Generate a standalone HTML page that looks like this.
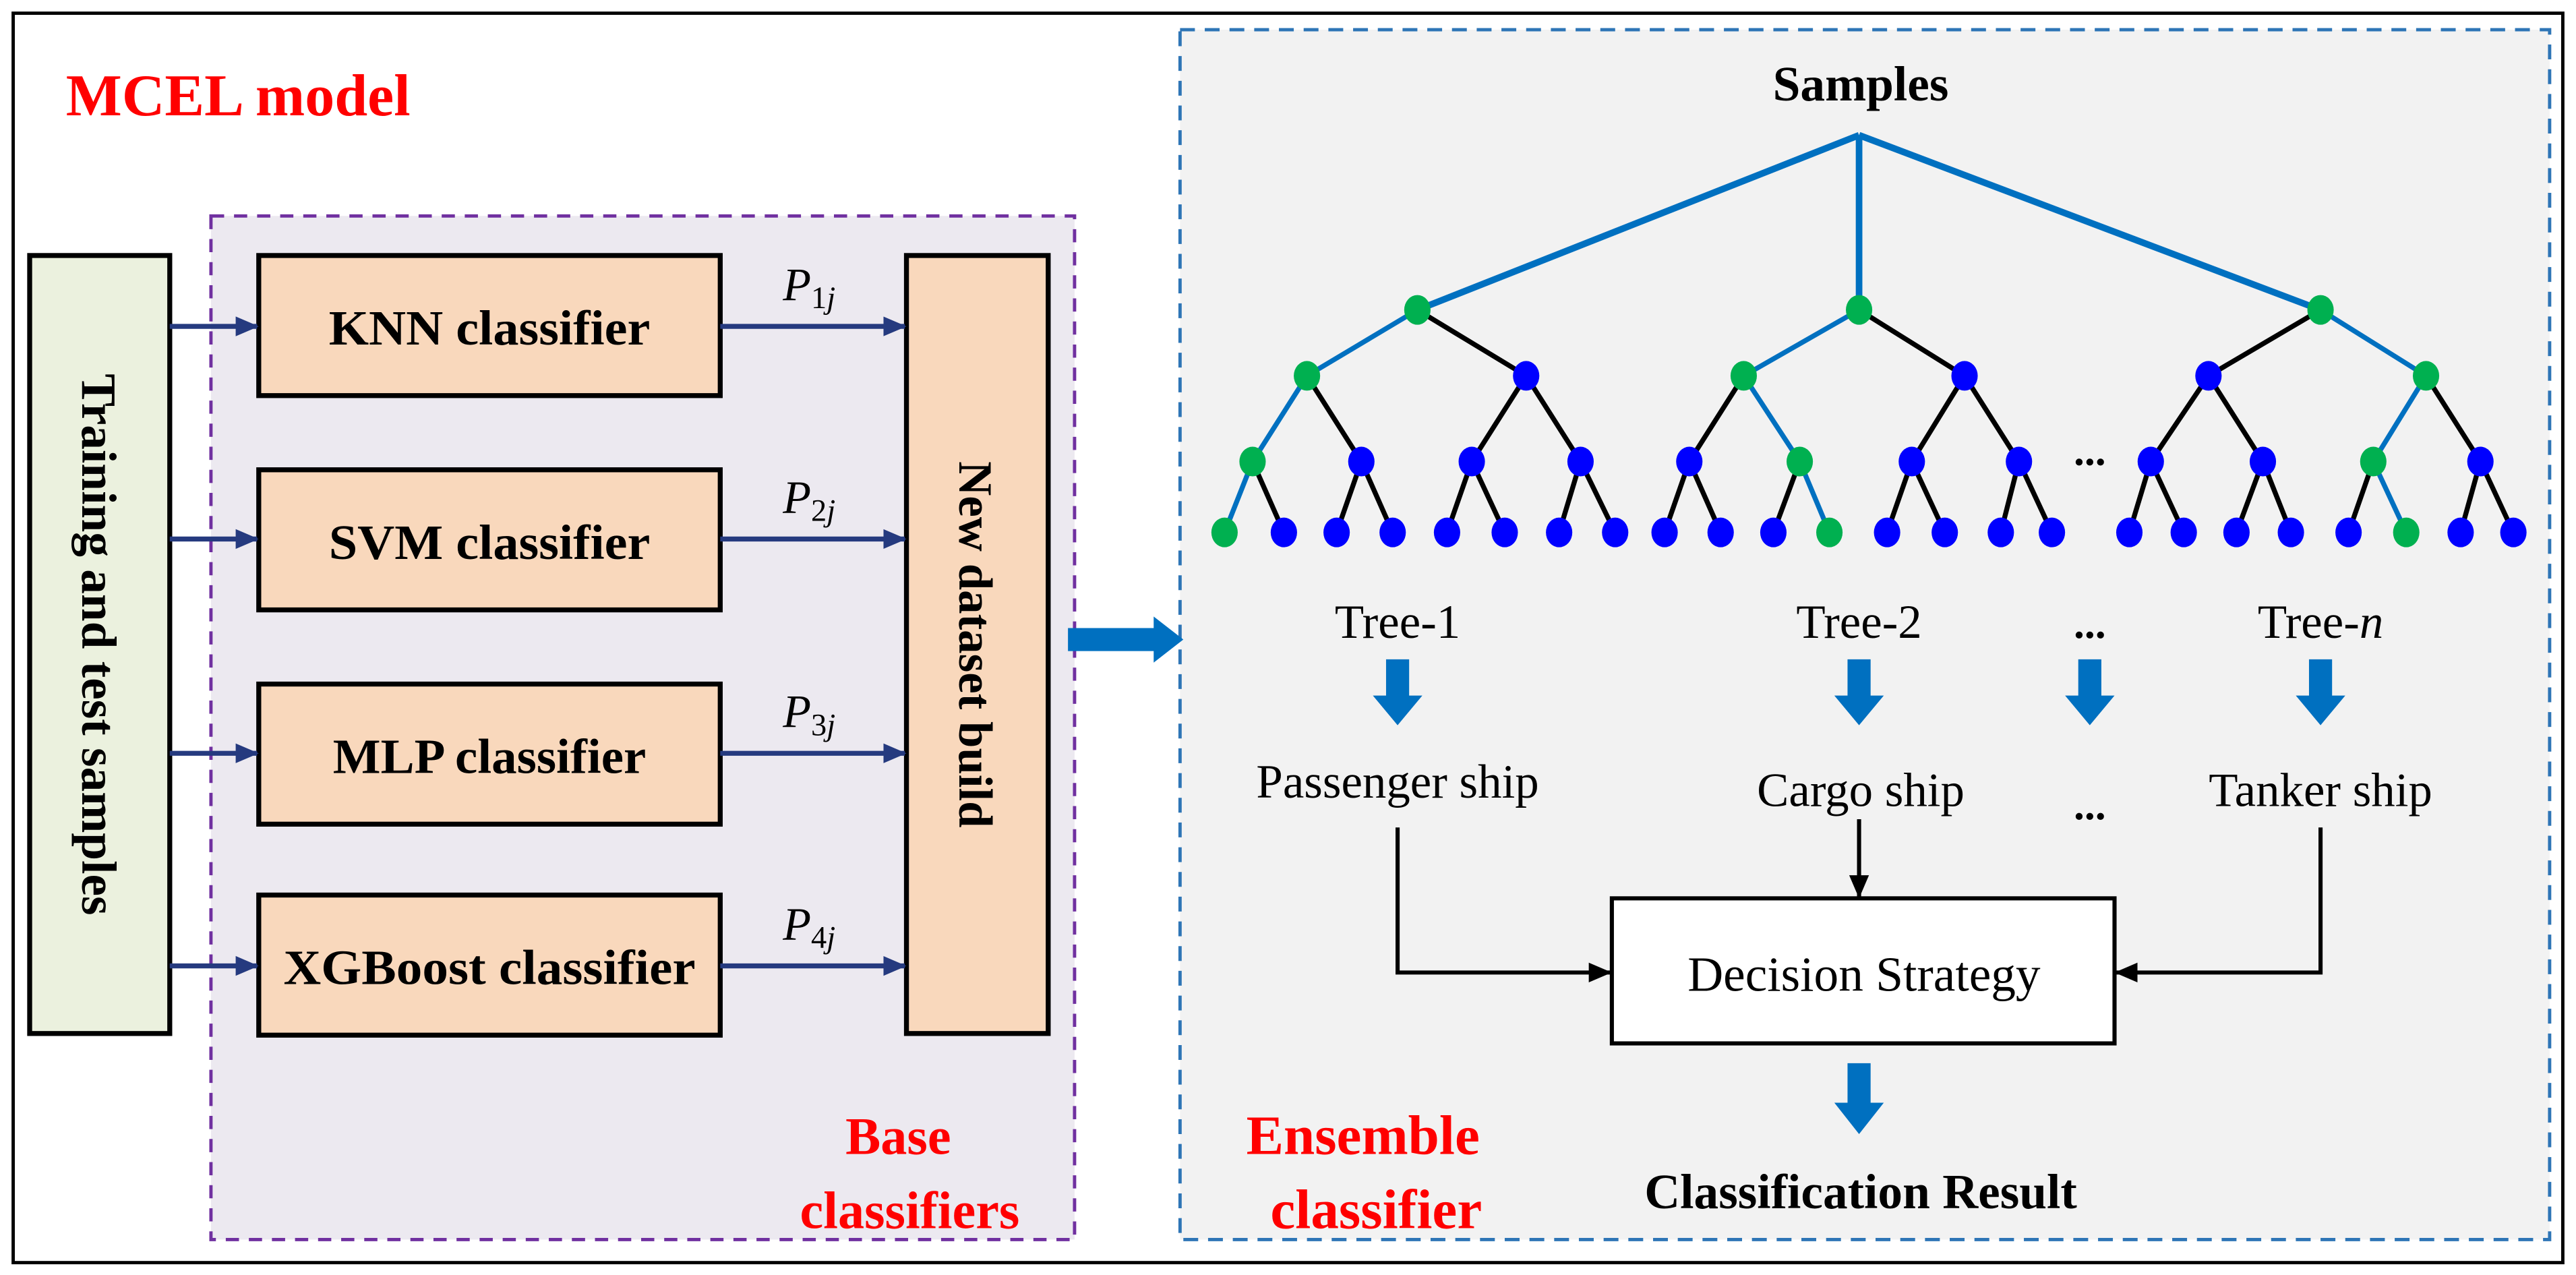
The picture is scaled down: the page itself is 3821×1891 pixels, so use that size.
<!DOCTYPE html>
<html><head><meta charset="utf-8"><style>
html,body{margin:0;padding:0;background:#fff;}
svg{display:block;}
text{font-family:"Liberation Serif",serif;}
</style></head><body>
<svg width="3821" height="1891" viewBox="0 0 1563 773.5" xmlns="http://www.w3.org/2000/svg">
<defs>
<marker id="na" markerWidth="14" markerHeight="14" refX="13" refY="7" orient="auto" markerUnits="userSpaceOnUse"><path d="M0,1 L14,7 L0,13 Z" fill="#253a7f"/></marker>
<marker id="ba" markerWidth="14" markerHeight="14" refX="13" refY="7" orient="auto" markerUnits="userSpaceOnUse"><path d="M0,1 L14,7 L0,13 Z" fill="#000"/></marker>
</defs>
<rect x="0" y="0" width="1563" height="773.5" fill="#fff"/>
<rect x="8" y="8" width="1547" height="758" fill="none" stroke="#000" stroke-width="2"/>
<text x="40" y="70" font-size="36" font-weight="bold" fill="#ff0000">MCEL model</text>
<rect x="128" y="131" width="524" height="621" fill="#ece9f0" stroke="#7030a0" stroke-width="2" stroke-dasharray="8,6"/>
<rect x="18" y="155" width="85" height="472" fill="#ebf1de" stroke="#000" stroke-width="3"/>
<text transform="translate(50,391) rotate(90)" text-anchor="middle" font-size="30" font-weight="bold">Training and test samples</text>
<g fill="#f9d8bc" stroke="#000" stroke-width="3">
<rect x="157" y="155" width="280" height="85"/>
<rect x="157" y="285" width="280" height="85"/>
<rect x="157" y="415" width="280" height="85"/>
<rect x="157" y="543" width="280" height="85"/>
<rect x="550" y="155" width="86" height="472"/>
</g>
<g font-size="30" font-weight="bold" text-anchor="middle">
<text x="297" y="209" textLength="195" lengthAdjust="spacingAndGlyphs">KNN classifier</text>
<text x="297" y="339" textLength="195" lengthAdjust="spacingAndGlyphs">SVM classifier</text>
<text x="297" y="469" textLength="190" lengthAdjust="spacingAndGlyphs">MLP classifier</text>
<text x="297" y="597" textLength="250" lengthAdjust="spacingAndGlyphs">XGBoost classifier</text>
</g>
<text transform="translate(582,391) rotate(90)" text-anchor="middle" font-size="29" font-weight="bold">New dataset build</text>
<g stroke="#253a7f" stroke-width="3" marker-end="url(#na)">
<line x1="103" y1="198" x2="156" y2="198"/><line x1="103" y1="327" x2="156" y2="327"/>
<line x1="103" y1="457" x2="156" y2="457"/><line x1="103" y1="586" x2="156" y2="586"/>
<line x1="437" y1="198" x2="549" y2="198"/><line x1="437" y1="327" x2="549" y2="327"/>
<line x1="437" y1="457" x2="549" y2="457"/><line x1="437" y1="586" x2="549" y2="586"/>
</g>
<g font-size="28" font-style="italic">
<text x="475" y="182">P<tspan font-size="19" font-style="normal" dy="5">1</tspan><tspan font-size="19" dy="0">j</tspan></text>
<text x="475" y="311">P<tspan font-size="19" font-style="normal" dy="5">2</tspan><tspan font-size="19">j</tspan></text>
<text x="475" y="441">P<tspan font-size="19" font-style="normal" dy="5">3</tspan><tspan font-size="19">j</tspan></text>
<text x="475" y="570">P<tspan font-size="19" font-style="normal" dy="5">4</tspan><tspan font-size="19">j</tspan></text>
</g>
<text x="545" y="700" font-size="32" font-weight="bold" fill="#ff0000" text-anchor="middle">Base</text>
<text x="552" y="745" font-size="32" font-weight="bold" fill="#ff0000" text-anchor="middle">classifiers</text>
<rect x="716" y="18" width="831" height="734" fill="#f2f2f2" stroke="#2e75b6" stroke-width="2" stroke-dasharray="9,6"/>
<path d="M648,381 L700,381 L700,374 L718,388 L700,402 L700,395 L648,395 Z" fill="#0070c0"/>
<text x="1129" y="61" font-size="30" font-weight="bold" text-anchor="middle">Samples</text>
<g stroke="#0070c0" stroke-width="4"><line x1="1128" y1="82" x2="860" y2="188"/><line x1="1128" y1="82" x2="1128" y2="188"/><line x1="1128" y1="82" x2="1408" y2="188"/></g>
<g stroke-width="3">
<line x1="860" y1="188" x2="793" y2="228" stroke="#0070c0"/><line x1="860" y1="188" x2="926" y2="228" stroke="#000"/>
<line x1="793" y1="228" x2="760" y2="280" stroke="#0070c0"/><line x1="793" y1="228" x2="826" y2="280" stroke="#000"/>
<line x1="926" y1="228" x2="893" y2="280" stroke="#000"/><line x1="926" y1="228" x2="959" y2="280" stroke="#000"/>
<line x1="760" y1="280" x2="743" y2="323" stroke="#0070c0"/><line x1="760" y1="280" x2="779" y2="323" stroke="#000"/>
<line x1="826" y1="280" x2="811" y2="323" stroke="#000"/><line x1="826" y1="280" x2="845" y2="323" stroke="#000"/>
<line x1="893" y1="280" x2="878" y2="323" stroke="#000"/><line x1="893" y1="280" x2="913" y2="323" stroke="#000"/>
<line x1="959" y1="280" x2="946" y2="323" stroke="#000"/><line x1="959" y1="280" x2="980" y2="323" stroke="#000"/>
<line x1="1128" y1="188" x2="1058" y2="228" stroke="#0070c0"/><line x1="1128" y1="188" x2="1192" y2="228" stroke="#000"/>
<line x1="1058" y1="228" x2="1025" y2="280" stroke="#000"/><line x1="1058" y1="228" x2="1092" y2="280" stroke="#0070c0"/>
<line x1="1192" y1="228" x2="1160" y2="280" stroke="#000"/><line x1="1192" y1="228" x2="1225" y2="280" stroke="#000"/>
<line x1="1025" y1="280" x2="1010" y2="323" stroke="#000"/><line x1="1025" y1="280" x2="1044" y2="323" stroke="#000"/>
<line x1="1092" y1="280" x2="1076" y2="323" stroke="#000"/><line x1="1092" y1="280" x2="1110" y2="323" stroke="#0070c0"/>
<line x1="1160" y1="280" x2="1145" y2="323" stroke="#000"/><line x1="1160" y1="280" x2="1180" y2="323" stroke="#000"/>
<line x1="1225" y1="280" x2="1214" y2="323" stroke="#000"/><line x1="1225" y1="280" x2="1245" y2="323" stroke="#000"/>
<line x1="1408" y1="188" x2="1340" y2="228" stroke="#000"/><line x1="1408" y1="188" x2="1472" y2="228" stroke="#0070c0"/>
<line x1="1340" y1="228" x2="1305" y2="280" stroke="#000"/><line x1="1340" y1="228" x2="1373" y2="280" stroke="#000"/>
<line x1="1472" y1="228" x2="1440" y2="280" stroke="#0070c0"/><line x1="1472" y1="228" x2="1505" y2="280" stroke="#000"/>
<line x1="1305" y1="280" x2="1292" y2="323" stroke="#000"/><line x1="1305" y1="280" x2="1325" y2="323" stroke="#000"/>
<line x1="1373" y1="280" x2="1357" y2="323" stroke="#000"/><line x1="1373" y1="280" x2="1390" y2="323" stroke="#000"/>
<line x1="1440" y1="280" x2="1425" y2="323" stroke="#000"/><line x1="1440" y1="280" x2="1460" y2="323" stroke="#0070c0"/>
<line x1="1505" y1="280" x2="1493" y2="323" stroke="#000"/><line x1="1505" y1="280" x2="1525" y2="323" stroke="#000"/>
</g>
<g fill="#00b050">
<ellipse cx="860" cy="188" rx="8" ry="9"/><ellipse cx="793" cy="228" rx="8" ry="9"/><ellipse cx="760" cy="280" rx="8" ry="9"/><ellipse cx="743" cy="323" rx="8" ry="9"/>
<ellipse cx="1128" cy="188" rx="8" ry="9"/><ellipse cx="1058" cy="228" rx="8" ry="9"/><ellipse cx="1092" cy="280" rx="8" ry="9"/><ellipse cx="1110" cy="323" rx="8" ry="9"/>
<ellipse cx="1408" cy="188" rx="8" ry="9"/><ellipse cx="1472" cy="228" rx="8" ry="9"/><ellipse cx="1440" cy="280" rx="8" ry="9"/><ellipse cx="1460" cy="323" rx="8" ry="9"/>
</g>
<g fill="#0000ff">
<ellipse cx="926" cy="228" rx="8" ry="9"/><ellipse cx="826" cy="280" rx="8" ry="9"/><ellipse cx="893" cy="280" rx="8" ry="9"/><ellipse cx="959" cy="280" rx="8" ry="9"/>
<ellipse cx="779" cy="323" rx="8" ry="9"/><ellipse cx="811" cy="323" rx="8" ry="9"/><ellipse cx="845" cy="323" rx="8" ry="9"/><ellipse cx="878" cy="323" rx="8" ry="9"/><ellipse cx="913" cy="323" rx="8" ry="9"/><ellipse cx="946" cy="323" rx="8" ry="9"/><ellipse cx="980" cy="323" rx="8" ry="9"/>
<ellipse cx="1192" cy="228" rx="8" ry="9"/><ellipse cx="1025" cy="280" rx="8" ry="9"/><ellipse cx="1160" cy="280" rx="8" ry="9"/><ellipse cx="1225" cy="280" rx="8" ry="9"/>
<ellipse cx="1010" cy="323" rx="8" ry="9"/><ellipse cx="1044" cy="323" rx="8" ry="9"/><ellipse cx="1076" cy="323" rx="8" ry="9"/><ellipse cx="1145" cy="323" rx="8" ry="9"/><ellipse cx="1180" cy="323" rx="8" ry="9"/><ellipse cx="1214" cy="323" rx="8" ry="9"/><ellipse cx="1245" cy="323" rx="8" ry="9"/>
<ellipse cx="1340" cy="228" rx="8" ry="9"/><ellipse cx="1305" cy="280" rx="8" ry="9"/><ellipse cx="1373" cy="280" rx="8" ry="9"/><ellipse cx="1505" cy="280" rx="8" ry="9"/>
<ellipse cx="1292" cy="323" rx="8" ry="9"/><ellipse cx="1325" cy="323" rx="8" ry="9"/><ellipse cx="1357" cy="323" rx="8" ry="9"/><ellipse cx="1390" cy="323" rx="8" ry="9"/><ellipse cx="1425" cy="323" rx="8" ry="9"/><ellipse cx="1493" cy="323" rx="8" ry="9"/><ellipse cx="1525" cy="323" rx="8" ry="9"/>
</g>
<text x="1268" y="282" font-size="26" font-weight="bold" text-anchor="middle">...</text>
<g font-size="29" text-anchor="middle">
<text x="848" y="387">Tree-1</text>
<text x="1128" y="387">Tree-2</text>
<text x="1268" y="387" font-weight="bold" font-size="26">...</text>
<text x="1408" y="387">Tree-<tspan font-style="italic">n</tspan></text>
<text x="848" y="484">Passenger ship</text>
<text x="1129" y="489">Cargo ship</text>
<text x="1268" y="497" font-weight="bold" font-size="26">...</text>
<text x="1408" y="489">Tanker ship</text>
</g>
<g fill="#0070c0">
<path d="M841,400 h14 v22 h8 l-15,18 l-15,-18 h8 Z"/>
<path d="M1121,400 h14 v22 h8 l-15,18 l-15,-18 h8 Z"/>
<path d="M1261,400 h14 v22 h8 l-15,18 l-15,-18 h8 Z"/>
<path d="M1401,400 h14 v22 h8 l-15,18 l-15,-18 h8 Z"/>
<path d="M1121,645 h14 v24 h8 l-15,19 l-15,-19 h8 Z"/>
</g>
<rect x="978" y="545" width="305" height="88" fill="#fff" stroke="#000" stroke-width="2.5"/>
<text x="1131" y="601" font-size="30" text-anchor="middle">Decision Strategy</text>
<g stroke="#000" stroke-width="2.5" fill="none" marker-end="url(#ba)">
<polyline points="848,502 848,590 977,590"/>
<polyline points="1128,497 1128,544"/>
<polyline points="1408,502 1408,590 1284,590"/>
</g>
<text x="1129" y="733" font-size="30" font-weight="bold" text-anchor="middle">Classification Result</text>
<text x="827" y="700" font-size="34" font-weight="bold" fill="#ff0000" text-anchor="middle">Ensemble</text>
<text x="835" y="745" font-size="34" font-weight="bold" fill="#ff0000" text-anchor="middle">classifier</text>
</svg>
</body></html>
